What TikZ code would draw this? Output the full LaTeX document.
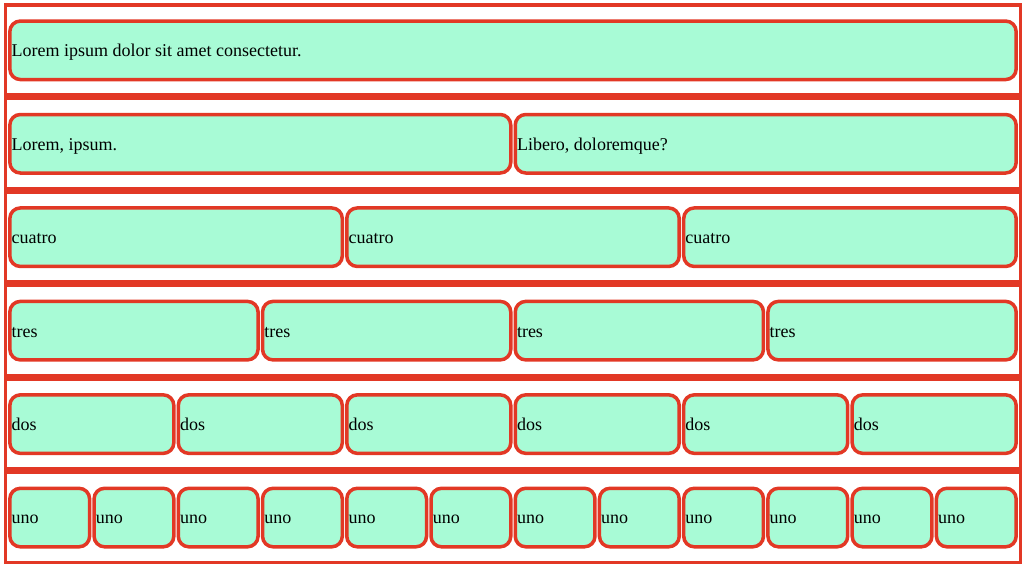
\documentclass[tikz,border=0pt]{standalone}
\usepackage{fontspec}
\setmainfont{Liberation Serif}
\definecolor{bred}{RGB}{226,56,37}
\definecolor{bgreen}{RGB}{168,251,214}
\newcommand\mkcell[4]{%
  \pgfmathsetmacro\cT{3.3+93.45*#1}%
  \pgfmathsetmacro\cw{1010.8/#2}%
  \pgfmathsetmacro\ccx{7.6+(#3+0.5)*\cw}%
  \pgfmathsetmacro\ccy{\cT+47}%
  \pgfmathsetmacro\ctx{7.6+#3*\cw+0.5+3.3}%
  \pgfmathsetmacro\cty{\cT+53.4}%
  \pgfmathsetmacro\cpw{\cw-4.5}%
  \node[cell, minimum width=\cpw pt] (c#1-#3) at (\ccx,\ccy) {};
  \node[celltext] (t#1-#3) at (\ctx,\cty) {#4};
}
\begin{document}
\begin{tikzpicture}[x=1pt,y=-1pt,
  rowbox/.style={draw=bred, line width=3.4pt, inner sep=0pt, minimum width=1014.6pt, minimum height=90.05pt},
  cell/.style={draw=bred, fill=bgreen, line width=3.5pt, rounded corners=10.5pt, inner sep=0pt, minimum height=58.5pt},
  celltext/.style={anchor=base west, inner sep=0pt, font=\fontsize{18}{21}\selectfont}]
\useasboundingbox (0,0) rectangle (1024,565);
\foreach \i in {0,...,5} {
  \pgfmathsetmacro\ry{3.3+93.45*(\i+0.5)}
  \node[rowbox] (row\i) at (513,\ry) {};
}
\mkcell{0}{1}{0}{Lorem ipsum dolor sit amet consectetur.}
\mkcell{1}{2}{0}{Lorem, ipsum.}
\mkcell{1}{2}{1}{Libero, doloremque?}
\foreach \k in {0,1,2} {\mkcell{2}{3}{\k}{cuatro}}
\foreach \k in {0,...,3} {\mkcell{3}{4}{\k}{tres}}
\foreach \k in {0,...,5} {\mkcell{4}{6}{\k}{dos}}
\foreach \k in {0,...,11} {\mkcell{5}{12}{\k}{uno}}
\end{tikzpicture}
\end{document}
